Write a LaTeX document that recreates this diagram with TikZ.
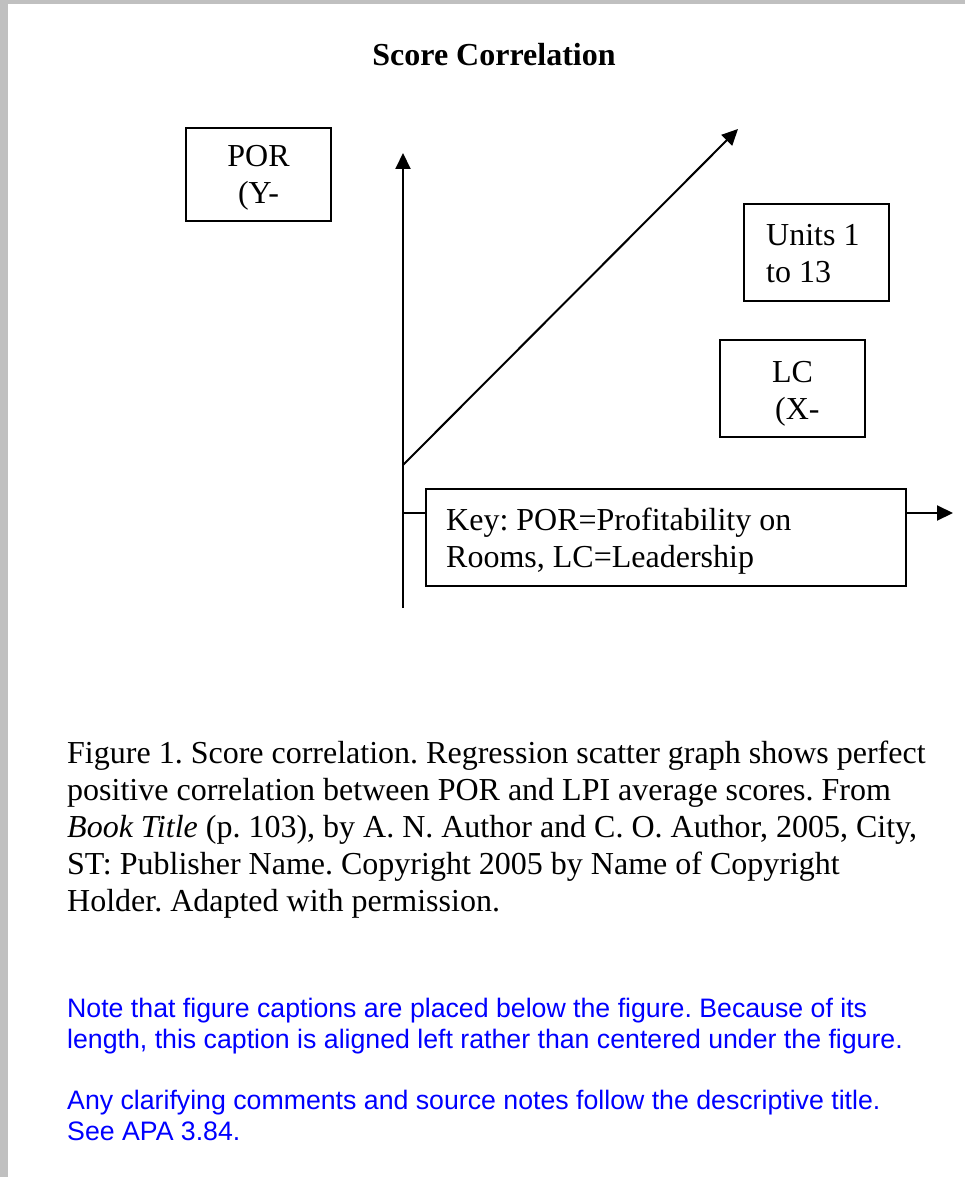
\documentclass[tikz,border=0pt]{standalone}
\usepackage{fontspec}
\setmainfont{Liberation Serif}
\newfontfamily\arialfont{Liberation Sans}
\usetikzlibrary{arrows.meta}
\definecolor{barcol}{RGB}{192,192,192}
\definecolor{noteblue}{RGB}{0,0,255}
\begin{document}
\frenchspacing
\begin{tikzpicture}[x=1pt,y=-1pt,
  ln/.style={line width=2pt},
  arr/.style={ln,-{Triangle[length=16pt,width=15pt]}},
  box/.style={draw,line width=2pt,rectangle,inner sep=0pt,minimum width=145pt,minimum height=97pt},
  txt/.style={inner sep=0pt,font=\fontsize{32}{36.8}\selectfont},
  lefttxt/.style={txt,anchor=base west},
  notetxt/.style={inner sep=0pt,anchor=base west,text=noteblue,font=\arialfont\fontsize{26.7}{30.7}\selectfont}]
\useasboundingbox (0,0) rectangle (965,1177);
\fill[barcol] (0,0) rectangle (8,1177);
\fill[barcol] (0,0) rectangle (965,4);
% title
\node[txt,anchor=base,font=\bfseries\fontsize{32}{36.8}\selectfont] (title) at (494,66) {Score Correlation};
% boxes
\node[box,minimum height=93pt] (por) at (258.5,174.5) {};
\node[txt,anchor=base] (porA) at (258.5,167) {POR};
\node[txt,anchor=base] (porB) at (258.5,204) {(Y-};
\node[box] (units) at (816.5,252.5) {};
\node[lefttxt] (unitsA) at (766,245) {Units 1};
\node[lefttxt] (unitsB) at (766,282) {to 13};
\node[box] (lc) at (792.5,388.5) {};
\node[txt,anchor=base] (lcA) at (792.5,382) {LC};
\node[lefttxt] (lcB) at (775,419) {(X-};
\node[box,minimum width=480.5pt] (key) at (665.75,537.5) {};
\node[lefttxt] (keyA) at (446,530) {Key: POR=Profitability on};
\node[lefttxt] (keyB) at (446,567) {Rooms, LC=Leadership};
% axes
\coordinate (vbot) at (403,608);
\coordinate (vtop) at (403,153);
\draw[arr] (vbot) -- (vtop);
\coordinate (dstart) at (403,465);
\coordinate (dtip) at (738,129);
\draw[arr] (dstart) -- (dtip);
\coordinate (hstart) at (403,513);
\coordinate (htip) at (953,513);
\draw[ln] (hstart) -- (hstart -| key.west);
\draw[arr] (key.east |- hstart) -- (htip);
% caption
\node[lefttxt] (c1) at (67,763) {Figure 1. Score correlation. Regression scatter graph shows perfect};
\node[lefttxt] (c2) at (67,800) {positive correlation between POR and LPI average scores. From};
\node[lefttxt] (c3) at (67,837) {\textit{Book Title} (p. 103), by A. N. Author and C. O. Author, 2005, City,};
\node[lefttxt] (c4) at (67,874) {ST: Publisher Name. Copyright 2005 by Name of Copyright};
\node[lefttxt] (c5) at (67,911) {Holder. Adapted with permission.};
% notes
\node[notetxt] (n1) at (67,1017) {Note that figure captions are placed below the figure. Because of its};
\node[notetxt] (n2) at (67,1048) {length, this caption is aligned left rather than centered under the figure.};
\node[notetxt] (n3) at (67,1109) {Any clarifying comments and source notes follow the descriptive title.};
\node[notetxt] (n4) at (67,1140) {See APA 3.84.};
\end{tikzpicture}
\end{document}
